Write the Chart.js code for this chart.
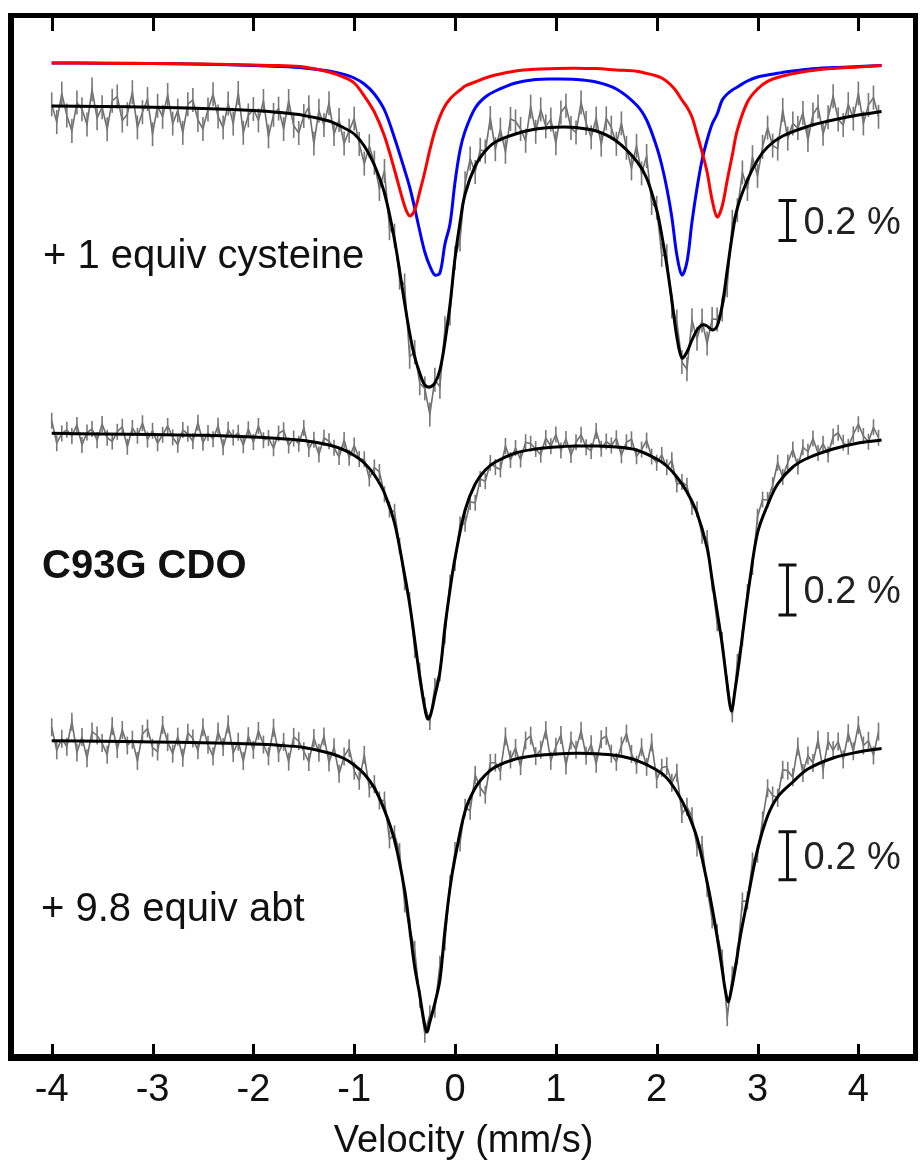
<!DOCTYPE html>
<html>
<head>
<meta charset="utf-8">
<title>C93G CDO Mössbauer</title>
<script src="https://cdn.jsdelivr.net/npm/chart.js@4.4.1/dist/chart.umd.min.js"></script>
<style>
  body { margin: 0; background: #fff; }
  canvas { display: block; }
</style>
</head>
<body>
<canvas id="grafica" width="921" height="1167"></canvas>
<script>
// velocity channels (mm/s) of the measured spectra
const dataVel = [-4,-3.95,-3.9,-3.85,-3.8,-3.75,-3.7,-3.65,-3.6,-3.55,-3.5,-3.45,-3.4,-3.35,-3.3,-3.25,-3.2,-3.15,-3.1,-3.05,-3,-2.95,-2.9,-2.85,-2.8,-2.75,-2.7,-2.65,-2.6,-2.55,-2.5,-2.45,-2.4,-2.35,-2.3,-2.25,-2.2,-2.15,-2.1,-2.05,-2,-1.95,-1.9,-1.85,-1.8,-1.75,-1.7,-1.65,-1.6,-1.55,-1.5,-1.45,-1.4,-1.35,-1.3,-1.25,-1.2,-1.15,-1.1,-1.05,-1,-0.95,-0.9,-0.85,-0.8,-0.75,-0.7,-0.65,-0.6,-0.55,-0.5,-0.45,-0.4,-0.35,-0.3,-0.25,-0.2,-0.15,-0.1,-0.05,0,0.05,0.1,0.15,0.2,0.25,0.3,0.35,0.4,0.45,0.5,0.55,0.6,0.65,0.7,0.75,0.8,0.85,0.9,0.95,1,1.05,1.1,1.15,1.2,1.25,1.3,1.35,1.4,1.45,1.5,1.55,1.6,1.65,1.7,1.75,1.8,1.85,1.9,1.95,2,2.05,2.1,2.15,2.2,2.25,2.3,2.35,2.4,2.45,2.5,2.55,2.6,2.65,2.7,2.75,2.8,2.85,2.9,2.95,3,3.05,3.1,3.15,3.2,3.25,3.3,3.35,3.4,3.45,3.5,3.55,3.6,3.65,3.7,3.75,3.8,3.85,3.9,3.95,4,4.05,4.1,4.15,4.2];

// relative transmission (%) - "+ 1 equiv cysteine"
const data1 = [99.998,99.910,100.052,99.942,99.865,100.007,99.974,99.897,100.072,99.929,
  99.984,99.874,100.016,100.038,99.917,99.949,100.059,99.883,99.959,100.025,
  99.849,99.991,99.936,100.045,99.902,99.967,99.856,99.999,100.020,99.920,
  99.875,99.973,100.049,99.938,99.882,100.002,99.902,100.055,99.856,99.943,
  99.975,99.918,100.015,99.838,99.946,99.977,99.875,100.015,99.891,99.855,
  99.940,99.984,99.802,99.966,99.895,100.004,99.850,99.920,99.803,99.866,
  99.927,99.800,99.702,99.789,99.706,99.575,99.665,99.379,99.342,99.132,
  99.093,98.736,98.760,98.604,98.578,98.448,98.621,98.586,98.879,98.953,
  99.230,99.322,99.604,99.727,99.660,99.771,99.762,99.930,99.774,99.872,
  99.761,99.925,99.913,99.875,99.816,99.987,99.861,99.973,99.888,99.923,
  99.804,99.958,99.991,99.880,99.857,100.008,99.905,99.834,99.928,99.797,
  99.928,99.882,99.801,99.903,99.781,99.678,99.791,99.653,99.740,99.505,
  99.481,99.246,99.239,98.987,98.912,98.710,98.674,98.919,98.826,98.917,
  98.802,98.925,98.923,98.973,99.093,99.411,99.469,99.658,99.575,99.734,
  99.641,99.786,99.882,99.792,99.777,99.970,99.827,99.903,99.880,99.955,
  99.820,99.948,99.987,99.851,99.934,100.039,99.923,99.895,99.999,99.927,
  100.053,99.903,99.995,100.032,99.936];

// "C93G CDO"
const data2 = [100.045,99.955,99.994,100.009,99.984,100.028,99.948,99.998,100.012,99.967,
  100.032,99.977,99.962,100.001,100.021,99.941,100.016,99.985,100.035,99.970,
  100.005,99.955,99.989,100.024,99.979,99.949,100.008,99.993,99.963,100.037,
  99.957,99.996,99.971,100.025,99.939,100.009,99.978,99.997,99.947,100.011,
  99.960,100.024,99.967,99.976,99.935,99.994,100.007,99.946,99.974,99.953,
  100.016,99.932,99.969,99.910,99.977,99.963,99.937,99.900,99.968,99.897,
  99.946,99.892,99.891,99.814,99.858,99.840,99.751,99.690,99.681,99.545,
  99.398,99.327,99.128,99.045,98.906,98.840,98.984,99.035,99.185,99.398,
  99.476,99.630,99.633,99.720,99.717,99.812,99.803,99.876,99.860,99.850,
  99.944,99.888,99.936,99.890,99.959,99.953,99.932,99.909,99.976,99.943,
  99.990,99.926,99.972,99.908,99.959,99.989,99.939,99.924,100.004,99.933,
  99.962,99.946,99.975,99.907,99.959,99.971,99.903,99.930,99.966,99.902,
  99.877,99.908,99.859,99.887,99.790,99.800,99.785,99.700,99.691,99.585,
  99.576,99.398,99.235,99.168,98.993,98.870,99.080,99.175,99.360,99.460,
  99.661,99.730,99.728,99.787,99.877,99.820,99.878,99.930,99.862,99.939,
  99.921,99.974,99.916,99.953,99.910,99.982,99.997,99.957,99.941,99.991,
  100.031,99.984,99.961,100.019,99.977];

// "+ 9.8 equiv abt"
const data3 = [100.053,99.957,100.005,99.972,100.076,99.948,100.012,99.924,100.035,100.019,
  99.987,99.939,100.058,99.962,100.042,99.977,100.001,99.913,100.025,100.048,
  99.968,99.952,100.063,99.991,99.943,100.014,99.926,100.030,100.006,99.957,
  100.053,99.980,99.932,100.035,99.971,100.066,99.946,99.993,99.912,100.016,
  99.959,100.038,99.981,99.932,100.051,99.946,99.992,99.910,100.013,99.995,
  99.953,99.908,100.008,99.947,100.015,99.906,99.970,99.859,99.931,99.966,
  99.872,99.830,99.938,99.798,99.816,99.748,99.748,99.586,99.607,99.533,
  99.319,99.217,99.126,98.922,98.776,98.857,98.880,99.064,99.160,99.399,
  99.538,99.573,99.718,99.705,99.854,99.802,99.772,99.904,99.906,99.869,
  100.015,99.919,99.967,99.891,99.998,100.018,99.933,99.959,100.041,99.914,
  99.972,100.021,99.894,99.998,99.959,100.039,99.934,99.982,99.901,100.003,
  100.017,99.943,99.909,99.976,100.027,99.942,99.897,99.970,99.888,99.990,
  99.836,99.884,99.891,99.822,99.864,99.692,99.722,99.682,99.552,99.564,
  99.384,99.252,99.195,99.090,98.845,99.020,99.102,99.327,99.331,99.494,
  99.526,99.665,99.799,99.769,99.759,99.876,99.872,99.845,99.973,99.863,
  99.935,99.904,100.001,99.875,99.996,99.957,99.994,99.919,100.028,99.953,
  100.062,99.977,99.997,99.936,100.035];

// fits of the "+ 1 equiv cysteine" spectrum: total and the two doublets
const fit1Vel = [-4,-3.5,-3,-2.5,-2,-1.75,-1.5,-1.25,-1.1,-1,-0.9,-0.8,-0.7,-0.6,-0.5,-0.45,-0.4,-0.35,-0.3,-0.25,-0.2,-0.15,-0.1,-0.05,0,0.05,0.1,0.2,0.3,0.4,0.6,0.8,1,1.2,1.4,1.6,1.8,1.9,2,2.05,2.1,2.15,2.2,2.25,2.3,2.35,2.4,2.45,2.5,2.55,2.6,2.65,2.7,2.75,2.8,2.9,3,3.1,3.25,3.5,3.75,4,4.23];
const fit1Total = [99.990,99.987,99.984,99.977,99.967,99.958,99.943,99.915,99.880,99.850,
  99.790,99.695,99.555,99.320,99.005,98.855,98.735,98.655,98.595,98.585,
  98.605,98.670,98.810,98.995,99.230,99.410,99.550,99.690,99.765,99.810,
  99.850,99.875,99.884,99.882,99.865,99.815,99.715,99.630,99.470,99.345,
  99.195,99.020,98.835,98.730,98.760,98.820,98.870,98.895,98.890,98.870,
  98.890,98.995,99.170,99.345,99.480,99.620,99.720,99.785,99.840,99.888,
  99.920,99.945,99.962];
const fit1Red = [100.205,100.204,100.202,100.200,100.195,100.192,100.185,100.160,100.133,100.105,
  100.040,99.960,99.840,99.670,99.490,99.440,99.470,99.560,99.660,99.770,
  99.865,99.937,99.990,100.025,100.050,100.070,100.090,100.110,100.130,100.145,
  100.165,100.174,100.178,100.179,100.177,100.170,100.164,100.153,100.140,100.130,
  100.113,100.090,100.060,100.020,99.985,99.935,99.850,99.760,99.660,99.520,
  99.435,99.490,99.620,99.745,99.870,100.010,100.075,100.113,100.140,100.165,
  100.178,100.185,100.193];
const fit1Blue = [100.205,100.204,100.202,100.199,100.193,100.188,100.180,100.165,100.148,100.130,
  100.100,100.050,99.970,99.830,99.670,99.585,99.480,99.365,99.260,99.190,
  99.145,99.155,99.300,99.400,99.610,99.770,99.865,99.980,100.035,100.065,
  100.105,100.123,100.125,100.123,100.110,100.075,99.995,99.920,99.785,99.695,
  99.580,99.435,99.245,99.145,99.210,99.410,99.580,99.720,99.820,99.900,
  99.950,100.020,100.050,100.070,100.085,100.115,100.135,100.145,100.158,100.174,
  100.182,100.187,100.192];

const fit2Vel = [-4,-3.5,-3,-2.5,-2,-1.75,-1.5,-1.25,-1.1,-1,-0.9,-0.8,-0.7,-0.6,-0.5,-0.45,-0.4,-0.35,-0.3,-0.27,-0.24,-0.2,-0.15,-0.1,-0.05,0,0.1,0.2,0.3,0.4,0.6,0.8,1,1.2,1.4,1.6,1.8,2,2.1,2.2,2.3,2.4,2.5,2.55,2.6,2.65,2.7,2.74,2.78,2.82,2.87,2.92,3,3.1,3.2,3.35,3.5,3.75,4,4.23];
const fit2Total = [99.995,99.992,99.990,99.987,99.980,99.974,99.966,99.948,99.928,99.906,
  99.876,99.828,99.756,99.636,99.428,99.312,99.168,99.020,98.896,98.852,
  98.872,98.944,99.040,99.220,99.368,99.496,99.688,99.792,99.848,99.880,
  99.916,99.932,99.940,99.944,99.944,99.940,99.928,99.892,99.864,99.820,
  99.760,99.676,99.536,99.408,99.280,99.148,98.988,98.884,98.976,99.088,
  99.248,99.396,99.596,99.708,99.792,99.860,99.896,99.932,99.956,99.968];

const fit3Vel = [-4,-3.5,-3,-2.5,-2,-1.75,-1.5,-1.25,-1.1,-1,-0.9,-0.8,-0.7,-0.6,-0.5,-0.45,-0.4,-0.35,-0.31,-0.28,-0.25,-0.2,-0.15,-0.1,-0.05,0,0.1,0.2,0.3,0.4,0.6,0.8,1,1.2,1.4,1.6,1.8,2,2.1,2.2,2.3,2.4,2.5,2.55,2.6,2.65,2.68,2.71,2.74,2.78,2.83,2.9,3,3.1,3.2,3.35,3.5,3.75,4,4.23];
const fit3Total = [99.997,99.995,99.992,99.989,99.983,99.978,99.969,99.946,99.923,99.896,
  99.858,99.800,99.708,99.583,99.375,99.217,99.054,98.938,98.833,98.783,
  98.825,98.904,99.000,99.208,99.383,99.508,99.704,99.800,99.854,99.888,
  99.921,99.935,99.942,99.945,99.943,99.935,99.915,99.875,99.842,99.783,
  99.704,99.592,99.408,99.300,99.179,99.042,98.958,98.908,98.958,99.050,
  99.183,99.333,99.542,99.683,99.763,99.825,99.879,99.925,99.950,99.965];

const velTicks = [-4, -3, -2, -1, 0, 1, 2, 3, 4];
const sampleLabels = ['+ 1 equiv cysteine', 'C93G CDO', '+ 9.8 equiv abt'];
const scaleBarTop = [99.517, 99.468, 99.618];   // % transmission where each 0.2 % bar starts
const scaleBarSize = 0.2;

const FAM = '"Liberation Sans", Arial, Helvetica, sans-serif';

function pares(xs, ys) {
  return xs.map(function (x, i) { return { x: x, y: ys[i] }; });
}

// fitted curve: smooth line, no points
function ajuste(xs, ys, eje, color, orden) {
  return {
    data: pares(xs, ys),
    yAxisID: eje,
    showLine: true,
    borderColor: color,
    borderWidth: 3,
    pointRadius: 0,
    fill: false,
    order: orden,
    tension: 0.35
  };
}

// measured points: jagged line with a short vertical bar at every channel
function medida(xs, ys, eje, barra) {
  return {
    data: pares(xs, ys),
    yAxisID: eje,
    showLine: true,
    borderColor: '#6e6e6e',
    borderWidth: 1.6,
    pointStyle: 'line',
    rotation: 90,
    pointRadius: barra,
    pointBorderColor: '#787878',
    pointBorderWidth: 1.6,
    pointHoverRadius: barra,
    fill: false,
    order: 3,
    tension: 0
  };
}

// frame, inner ticks, sample names and 0.2 % bars
const decoracion = {
  id: 'decoracion',
  afterDraw(chart) {
    const ctx = chart.ctx;
    const a = chart.chartArea;
    const sx = chart.scales.x;
    ctx.save();
    ctx.fillStyle = '#000';
    ctx.fillRect(8, 13, 910, 5);
    ctx.fillRect(8, a.bottom, 910, 7);
    ctx.fillRect(8, 13, 6, a.bottom + 7 - 13);
    ctx.fillRect(a.right, 13, 5, a.bottom + 7 - 13);

    ctx.strokeStyle = '#000';
    ctx.lineWidth = 3;
    velTicks.forEach(function (v) {
      const px = Math.round(sx.getPixelForValue(v)) + 0.5;
      ctx.beginPath();
      ctx.moveTo(px, a.top);
      ctx.lineTo(px, a.top + 13);
      ctx.moveTo(px, a.bottom);
      ctx.lineTo(px, a.bottom - 10);
      ctx.stroke();
    });

    ctx.fillStyle = '#111';
    ctx.textBaseline = 'alphabetic';
    ctx.textAlign = 'left';
    ctx.font = '40px ' + FAM;
    ctx.fillText(sampleLabels[0], 43, 268);
    ctx.font = 'bold 40px ' + FAM;
    ctx.fillText(sampleLabels[1], 42, 578);
    ctx.font = '40px ' + FAM;
    ctx.fillText(sampleLabels[2], 41, 921);

    ['y1', 'y2', 'y3'].forEach(function (id, k) {
      const sc = chart.scales[id];
      const y0 = sc.getPixelForValue(scaleBarTop[k]);
      const y1 = sc.getPixelForValue(scaleBarTop[k] - scaleBarSize);
      const bx = Math.round(sx.getPixelForValue(3.29)) + 0.5;
      ctx.strokeStyle = '#111';
      ctx.lineWidth = 3;
      ctx.beginPath();
      ctx.moveTo(bx, y0); ctx.lineTo(bx, y1);
      ctx.moveTo(bx - 9, y0); ctx.lineTo(bx + 9, y0);
      ctx.moveTo(bx - 9, y1); ctx.lineTo(bx + 9, y1);
      ctx.stroke();
      ctx.fillStyle = '#222';
      ctx.font = '38px ' + FAM;
      ctx.fillText(scaleBarSize + ' %', bx + 16, (y0 + y1) / 2 + 13);
    });
    ctx.restore();
  }
};

const ctx = document.getElementById('grafica').getContext('2d');
const grafica = new Chart(ctx, {
  type: 'scatter',
  data: {
    datasets: [
      medida(dataVel, data1, 'y1', 12),
      medida(dataVel, data2, 'y2', 8),
      medida(dataVel, data3, 'y3', 9),
      ajuste(fit1Vel, fit1Total, 'y1', '#000000', 2),
      ajuste(fit2Vel, fit2Total, 'y2', '#000000', 2),
      ajuste(fit3Vel, fit3Total, 'y3', '#000000', 2),
      ajuste(fit1Vel, fit1Blue, 'y1', '#0000ff', 1),
      ajuste(fit1Vel, fit1Red, 'y1', '#ff0000', 0)
    ]
  },
  options: {
    responsive: false,
    devicePixelRatio: 1,
    animation: false,
    layout: { autoPadding: false, padding: { left: 14, right: 8, top: 18, bottom: 0 } },
    plugins: {
      legend: { display: false },
      tooltip: { enabled: false }
    },
    scales: {
      x: {
        type: 'linear',
        min: -4.374,
        max: 4.542,
        afterBuildTicks: function (s) { s.ticks = velTicks.map(function (v) { return { value: v }; }); },
        afterFit: function (s) { s.height = 113; },
        grid: { display: false, drawTicks: false },
        border: { display: false },
        ticks: {
          font: { family: FAM, size: 38, lineHeight: 1.2 },
          color: '#111',
          padding: 14,
          maxRotation: 0,
          autoSkip: false
        },
        title: {
          display: true,
          text: 'Velocity (mm/s)',
          font: { family: FAM, size: 38, lineHeight: 1.2 },
          color: '#111',
          padding: { top: 0, bottom: 3 }
        }
      },
      y1: { type: 'linear', display: false, min: 95.25, max: 100.43 },
      y2: { type: 'linear', display: false, min: 97.512, max: 101.656 },
      y3: { type: 'linear', display: false, min: 98.6917, max: 103.0083 }
    }
  },
  plugins: [decoracion]
});
</script>
</body>
</html>
